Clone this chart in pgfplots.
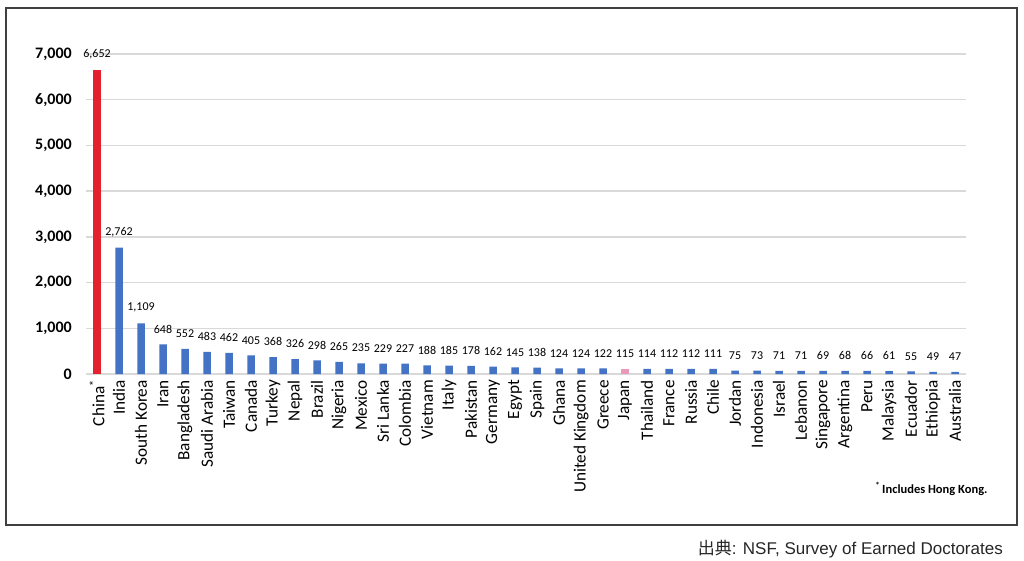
\documentclass[border=0pt]{standalone}
\usepackage{pgfplots}
\pgfplotsset{compat=1.18}
\usepackage{pgfplotstable}
\usepackage{fontspec}
\setmainfont{Carlito}
\newfontfamily\capfont{Liberation Sans}
\newfontfamily\cjk{Noto Sans CJK JP}
\definecolor{barblue}{HTML}{4472C4}
\definecolor{barred}{HTML}{E2222C}
\definecolor{barpink}{HTML}{E899B8}
\definecolor{gridgray}{HTML}{D9D9D9}
\definecolor{framegray}{HTML}{404040}

\pgfplotstableread{
x y
0 6652
}\chinatab
\pgfplotstableread{
x y
24 115
}\japantab
\pgfplotstableread{
x y
1 2762
2 1109
3 648
4 552
5 483
6 462
7 405
8 368
9 326
10 298
11 265
12 235
13 229
14 227
15 188
16 185
17 178
18 162
19 145
20 138
21 124
22 124
23 122
25 114
26 112
27 112
28 111
29 75
30 73
31 71
32 71
33 69
34 68
35 66
36 61
37 55
38 49
39 47
}\bluetab

\begin{document}
\begin{tikzpicture}[x=1pt,y=1pt]
\useasboundingbox (0,0) rectangle (1024,560);
\draw[framegray, line width=1.6pt] (6,35) rectangle (1017,552);
\begin{axis}[
  at={(86pt,186pt)}, anchor=south west,
  scale only axis, width=880pt, height=320pt,
  xmin=-0.5, xmax=39.5, ymin=0, ymax=7000,
  ybar, bar width=7.5pt,
  axis lines=left,
  x axis line style={gridgray, line width=1.5pt, -},
  y axis line style={draw=none, -},
  ytick={0,1000,...,7000},
  ymajorgrids, grid style={gridgray, line width=1.5pt},
  major tick length=0pt,
  xtick={0,...,39},
  xticklabels={China\textsuperscript{*},India,South Korea,Iran,Bangladesh,Saudi Arabia,Taiwan,Canada,Turkey,Nepal,Brazil,Nigeria,Mexico,Sri Lanka,Colombia,Vietnam,Italy,Pakistan,Germany,Egypt,Spain,Ghana,United Kingdom,Greece,Japan,Thailand,France,Russia,Chile,Jordan,Indonesia,Israel,Lebanon,Singapore,Argentina,Peru,Malaysia,Ecuador,Ethiopia,Australia},
  x tick label style={rotate=90, anchor=east, font=\fontsize{17.2}{17}\selectfont, inner sep=0pt, xshift=-6pt},
  /pgf/number format/assume math mode=true,
  yticklabel style={font=\fontsize{16}{16}\selectfont\bfseries, inner sep=0pt, xshift=-14pt, anchor=east},
  yticklabel={\pgfmathprintnumber[1000 sep={,}]{\tick}},
  yticklabel style={/pgf/number format/fixed},
  nodes near coords,
  nodes near coords style={font=\fontsize{12}{12}\selectfont, text=black, anchor=south, inner sep=0pt, yshift=11pt,
    /pgf/number format/1000 sep={,}},
  clip=false,
]
\addplot[bar shift=0pt, fill=barred, draw=none] table[x=x,y=y] {\chinatab};
\addplot[bar shift=0pt, fill=barblue, draw=none] table[x=x,y=y] {\bluetab};
\addplot[bar shift=0pt, fill=barpink, draw=none] table[x=x,y=y] {\japantab};
\end{axis}
\node[anchor=east, font=\fontsize{12.5}{13}\selectfont\bfseries] at (991,71) {\textsuperscript{*}\,Includes Hong Kong.};
\node[anchor=base east, inner sep=0pt, font=\fontsize{17}{17}\selectfont\capfont, text=black!85] at (1003,6) {{\cjk 出典}: NSF, Survey of Earned Doctorates};
\end{tikzpicture}
\end{document}
